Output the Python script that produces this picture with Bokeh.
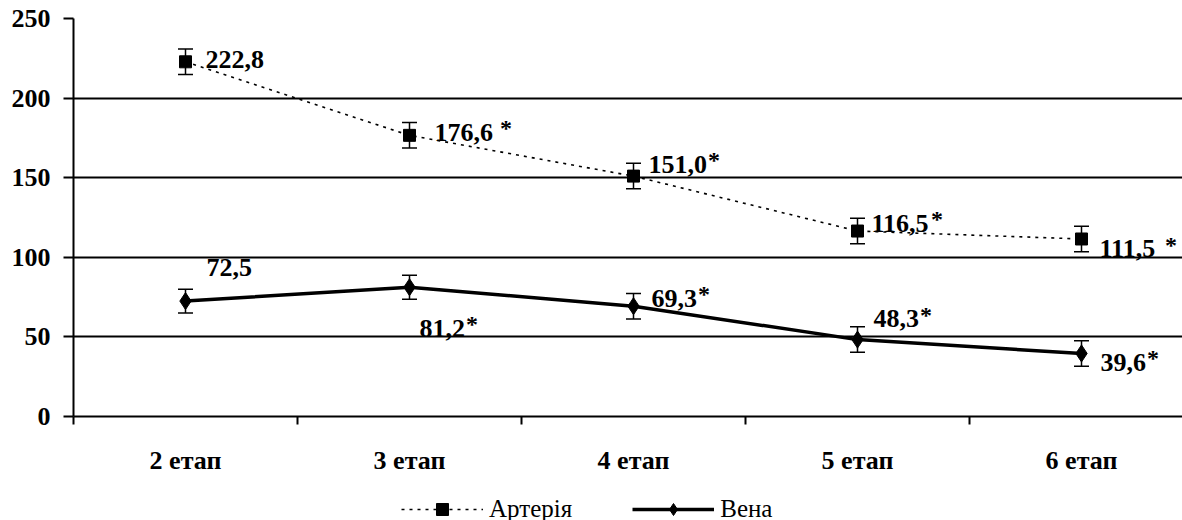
from bokeh.plotting import figure
from bokeh.layouts import column
from bokeh.models import (ColumnDataSource, FixedTicker, Whisker, TeeHead, Legend, LegendItem,
                          Range1d)
from bokeh.core.properties import value
from bokeh.embed import file_html
from bokeh.resources import INLINE

# ---- data ----
categories = ["2 етап", "3 етап", "4 етап", "5 етап", "6 етап"]
arteria = [222.8, 176.6, 151.0, 116.5, 111.5]
arteria_err = [8, 8, 8, 8, 8]
arteria_sig = ["", " *", "*", "*", " *"]
vena = [72.5, 81.2, 69.3, 48.3, 39.6]
vena_err = [7.5, 7.5, 8, 8, 8]
vena_sig = ["", "*", "*", "*", "*"]
y_ticks = [0, 50, 100, 150, 200, 250]
series_names = ["Артерія", "Вена"]

# label placement (screen px offsets)
art_dx = [20, 25, 15, 14, 18]
art_dy = [-2, -3, -12, -8, 10]
ven_dx = [21, 10, 18, 16, 19]
ven_dy = [-34, 41, -8, -21, 9]

SERIF = "Liberation Serif"
FS = 26  # label font size, px
xs = list(range(len(categories)))

def fmt(v):
    return f"{v:.1f}".replace(".", ",")

def text_w(s):
    # Liberation Serif Bold advance widths (em): digits 0.5, comma 0.25
    return FS * sum(0.25 if ch == "," else 0.5 for ch in s)

def make_src(vals, errs, sig, dx, dy):
    labs = [fmt(v) for v in vals]
    return ColumnDataSource(dict(
        x=xs, y=vals,
        lo=[v - e for v, e in zip(vals, errs)],
        hi=[v + e for v, e in zip(vals, errs)],
        lab=labs, dx=dx, dy=dy,
        star=[s.strip() for s in sig],
        sdx=[d + text_w(l) + (7 if s.startswith(" ") else 1) for d, l, s in zip(dx, labs, sig)],
        sdy=[d - 4 for d in dy]))

src_a = make_src(arteria, arteria_err, arteria_sig, art_dx, art_dy)
src_v = make_src(vena, vena_err, vena_sig, ven_dx, ven_dy)

W = 1182
FW = 1109
p = figure(width=W, height=467, frame_width=FW, frame_height=398,
           output_backend="svg", toolbar_location=None,
           x_range=Range1d(-0.5, -0.5 + FW / 224), y_range=Range1d(0, 250),
           min_border_top=18, min_border_left=73, min_border_right=0, min_border_bottom=51)
p.outline_line_color = None
p.background_fill_color = "white"
p.border_fill_color = "white"

# x axis
p.xaxis.ticker = FixedTicker(ticks=xs, minor_ticks=[i - 0.5 for i in range(len(categories) + 1)])
p.xaxis.major_label_overrides = {i: c for i, c in enumerate(categories)}
p.xaxis.major_tick_line_color = None
p.xaxis.major_tick_out = 0
p.xaxis.major_tick_in = 0
p.xaxis.minor_tick_out = 8
p.xaxis.minor_tick_in = 0
p.xaxis.minor_tick_line_color = "black"
p.xaxis.minor_tick_line_width = 2
p.xaxis.axis_line_width = 2
p.xaxis.axis_line_color = "black"
p.xaxis.major_label_standoff = 21
p.xaxis.major_label_text_font = SERIF
p.xaxis.major_label_text_font_style = "bold"
p.xaxis.major_label_text_font_size = "26px"
p.xaxis.major_label_text_color = "black"

# y axis
p.yaxis.ticker = FixedTicker(ticks=y_ticks, minor_ticks=[])
p.yaxis.major_tick_out = 10
p.yaxis.major_tick_in = 0
p.yaxis.major_tick_line_width = 2
p.yaxis.axis_line_width = 2
p.yaxis.axis_line_color = "black"
p.yaxis.major_label_standoff = 13
p.yaxis.major_label_text_font = SERIF
p.yaxis.major_label_text_font_style = "bold"
p.yaxis.major_label_text_font_size = "26px"
p.yaxis.major_label_text_color = "black"

p.xgrid.grid_line_color = None
p.ygrid.grid_line_color = "black"
p.ygrid.grid_line_width = 2
p.ygrid.grid_line_alpha = 1

ART_LINE = dict(line_color="black", line_width=1.6, line_dash="3 5")
VEN_LINE = dict(line_color="black", line_width=3.5)
ART_MARK = dict(marker="square", fill_color="black", line_color="black")
VEN_MARK = dict(marker="diamond", fill_color="black", line_color="black")

# series
p.line("x", "y", source=src_a, **ART_LINE)
p.line("x", "y", source=src_v, **VEN_LINE)

for src in (src_a, src_v):
    w = Whisker(base="x", lower="lo", upper="hi", source=src, line_color="black", line_width=1.5,
                upper_head=TeeHead(size=15, line_color="black", line_width=1.5),
                lower_head=TeeHead(size=15, line_color="black", line_width=1.5))
    p.add_layout(w)

p.scatter("x", "y", source=src_a, size=12, **ART_MARK)
p.scatter("x", "y", source=src_v, size=17, **VEN_MARK)

for src in (src_a, src_v):
    p.text("x", "y", text="lab", source=src, x_offset="dx", y_offset="dy",
           text_font=value(SERIF), text_font_style="bold", text_font_size=f"{FS}px",
           text_align="left", text_baseline="alphabetic", text_color="black")
    p.text("x", "y", text="star", source=src, x_offset="sdx", y_offset="sdy",
           text_font=value(SERIF), text_font_style="bold", text_font_size="24px",
           text_align="left", text_baseline="alphabetic", text_color="black")

# legend strip (same series sources; their points lie outside this strip's ranges)
lg = figure(width=W, height=53, output_backend="svg", toolbar_location=None,
            x_range=Range1d(-100, -99), y_range=Range1d(-100, -99),
            min_border=0, min_border_left=0, min_border_right=0, min_border_top=0, min_border_bottom=0)
lg.axis.visible = False
lg.grid.visible = False
lg.outline_line_color = None
la = lg.line("x", "y", source=src_a, **ART_LINE)
sa = lg.scatter("x", "y", source=src_a, **ART_MARK)
lv = lg.line("x", "y", source=src_v, **VEN_LINE)
sv = lg.scatter("x", "y", source=src_v, **VEN_MARK)
legend = Legend(items=[LegendItem(label=series_names[0], renderers=[la, sa], index=0),
                       LegendItem(label=series_names[1], renderers=[lv, sv], index=0)],
                orientation="horizontal", location=(328, 6),
                glyph_width=82, glyph_height=30, label_standoff=6, spacing=60,
                label_text_font=SERIF, label_text_font_size="25px", label_text_color="black",
                border_line_color=None, background_fill_alpha=0, padding=0, margin=0)
lg.add_layout(legend, "center")

layout = column(p, lg, spacing=0)
open("out.html", "w").write(file_html(layout, INLINE))
